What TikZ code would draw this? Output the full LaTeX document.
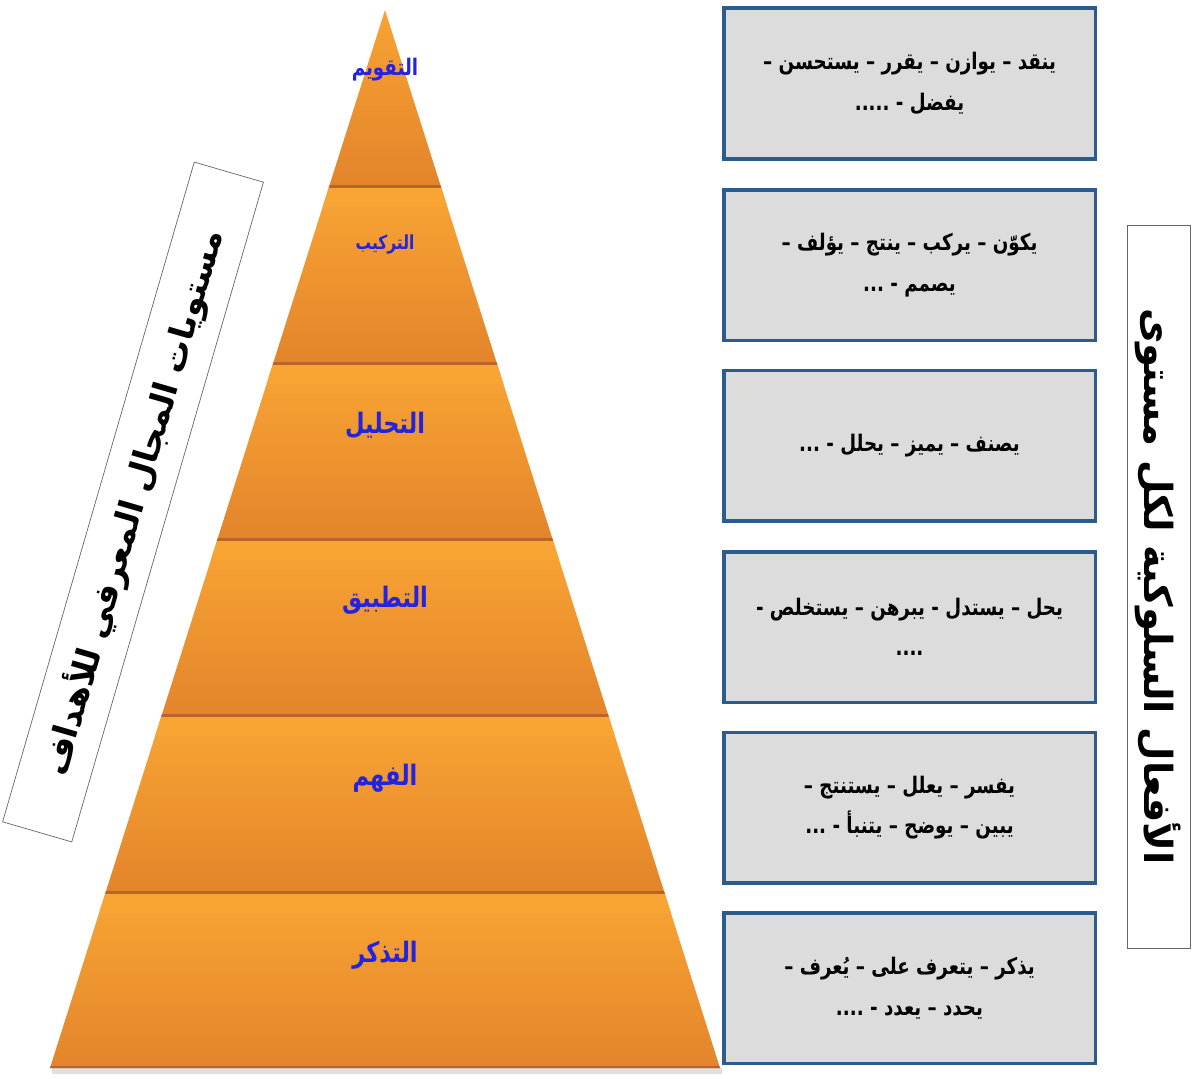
\documentclass[tikz,border=0pt]{standalone}
\usepackage{fontspec}
\newfontfamily\arabicfont[Script=Arabic]{DejaVu Sans}
\newfontfamily\arabicnarrow[Script=Arabic, FakeStretch=0.8]{DejaVu Sans}
\TeXXeTstate=1

\definecolor{bandtop}{HTML}{F9A534}
\definecolor{bandbot}{HTML}{E3842B}
\definecolor{bandedge}{HTML}{B9652A}
\definecolor{glow}{HTML}{FFE27A}
\definecolor{levelblue}{HTML}{2323E0}
\definecolor{boxedge}{HTML}{2C5B8E}
\definecolor{boxfill}{HTML}{DCDCDC}

\begin{document}
\begin{tikzpicture}[
    x=0.2mm, y=-0.2mm,
    band/.style={top color=bandtop, bottom color=bandbot},
    stripe/.style={top color=bandtop, middle color=glow, bottom color=bandtop},
    edge/.style={bandedge, line width=0.6mm},
    level/.style={font=\arabicnarrow\bfseries\fontsize{16}{18}\selectfont, text=levelblue},
    verbs/.style={draw=boxedge, line width=0.7mm, fill=boxfill, minimum width=74.3mm, minimum height=30.1mm, inner sep=2pt, align=center, font=\arabicnarrow\bfseries\fontsize{13}{23}\selectfont},
    caption/.style={draw=black!60, fill=white, inner sep=0pt, font=\arabicfont\bfseries\fontsize{19}{22}\selectfont},
]

% Frame
\fill[white] (0,0) rectangle (1198,1078);
\useasboundingbox (0,0) rectangle (1198,1078);

% === PYRAMID ===
\fill[black!12] (52,1068) rectangle (722,1074);
\begin{scope}
\clip (385,10) -- (720,1068) -- (50,1068) -- cycle;
% bands, top to bottom
\shade[band] (40,0) rectangle (730,186);
\shade[band] (40,186) rectangle (730,363);
\shade[band] (40,363) rectangle (730,539);
\shade[band] (40,539) rectangle (730,715);
\shade[band] (40,715) rectangle (730,892);
\shade[band] (40,892) rectangle (730,1068);
% highlight under each step
\shade[stripe] (40,188) rectangle (730,206);
\shade[stripe] (40,365) rectangle (730,383);
\shade[stripe] (40,541) rectangle (730,559);
\shade[stripe] (40,717) rectangle (730,735);
\shade[stripe] (40,894) rectangle (730,912);
% dark step edges
\draw[edge] (40,186) -- (730,186);
\draw[edge] (40,363) -- (730,363);
\draw[edge] (40,539) -- (730,539);
\draw[edge] (40,715) -- (730,715);
\draw[edge] (40,892) -- (730,892);
\draw[edge] (40,1067) -- (730,1067);
\end{scope}

% Level names
\node[level, font=\arabicnarrow\bfseries\fontsize{13}{15}\selectfont] (lvEval) at (385,70) {\beginR التقويم\endR};
\node[level, font=\arabicnarrow\bfseries\fontsize{11}{13}\selectfont] (lvSynth) at (385,245) {\beginR التركيب\endR};
\node[level] (lvAnal) at (385,425) {\beginR التحليل\endR};
\node[level] (lvApply) at (385,600) {\beginR التطبيق\endR};
\node[level] (lvUnder) at (385,778) {\beginR الفهم\endR};
\node[level] (lvRecall) at (385,955) {\beginR التذكر\endR};

% === VERB BOXES ===
\node[verbs] (vbEval) at (909.5,83.5) {\beginR ينقد – يوازن – يقرر – يستحسن –\endR\\ \beginR يفضل - .....\endR};
\node[verbs] (vbSynth) at (909.5,265) {\beginR يكوّن – يركب – ينتج – يؤلف –\endR\\ \beginR يصمم - ...\endR};
\node[verbs] (vbAnal) at (909.5,445.5) {\beginR يصنف – يميز – يحلل - ...\endR};
\node[verbs] (vbApply) at (909.5,627) {\beginR يحل – يستدل - يبرهن – يستخلص -\endR\\ \beginR ....\endR};
\node[verbs] (vbUnder) at (909.5,807.5) {\beginR يفسر – يعلل – يستنتج –\endR\\ \beginR يبين – يوضح – يتنبأ - ...\endR};
\node[verbs] (vbRecall) at (909.5,988) {\beginR يذكر – يتعرف على – يُعرف –\endR\\ \beginR يحدد – يعدد - ....\endR};

% === SIDE CAPTIONS ===
\node[caption, rotate=73.8, minimum width=137.4mm, minimum height=14.4mm] (capLeft) at (133,502) {\beginR مستويات المجال المعرفي للأهداف\endR};
\node[caption, rotate=-90, minimum width=144.6mm, minimum height=12.6mm, font=\arabicfont\bfseries\fontsize{22}{25}\selectfont] (capRight) at (1158.5,586.5) {\beginR الأفعال السلوكية لكل مستوى\endR};

\end{tikzpicture}
\end{document}
